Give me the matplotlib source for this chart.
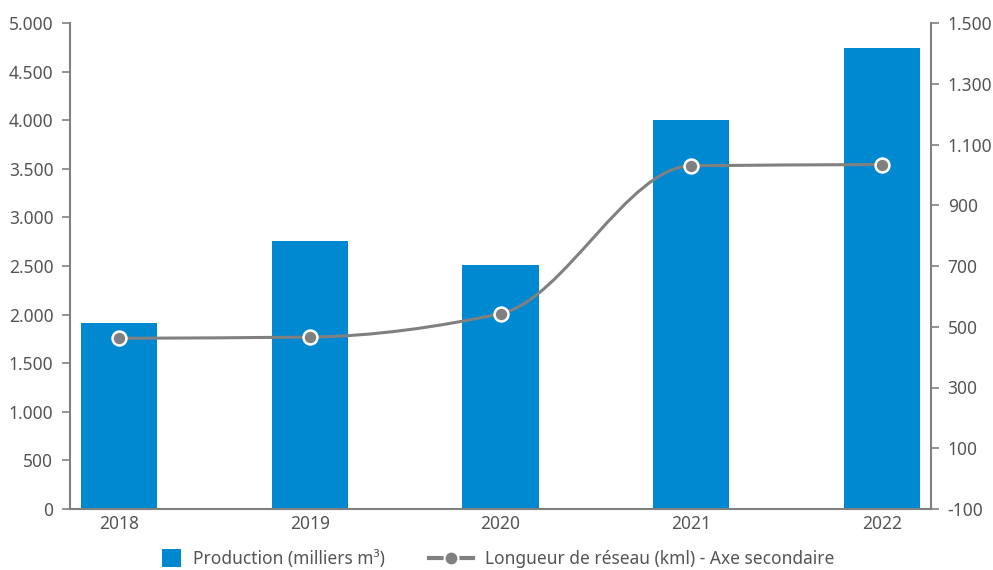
import numpy as np
import matplotlib.pyplot as plt
from matplotlib.path import Path
from matplotlib.patches import PathPatch, Patch, Rectangle
from matplotlib.lines import Line2D
from matplotlib.legend_handler import HandlerPatch

plt.rcParams['font.family'] = ['Noto Sans', 'DejaVu Sans']

years = ['2018', '2019', '2020', '2021', '2022']
production = [1910, 2760, 2510, 4005, 4740]
reseau = [462, 466, 543, 1030, 1034]

bar_color = '#0088d1'
gray = '#808080'
text_color = '#555555'


def monotone_path(x, y):
    # cubic bezier segments with Fritsch-Carlson tangents (smooth line like the source)
    x = np.asarray(x, float)
    y = np.asarray(y, float)
    h = np.diff(x)
    d = np.diff(y) / h
    m = np.zeros_like(y)
    m[0], m[-1] = d[0], d[-1]
    for i in range(1, len(y) - 1):
        if d[i - 1] * d[i] > 0:
            m[i] = 2 * d[i - 1] * d[i] / (d[i - 1] + d[i])
    verts = [(x[0], y[0])]
    codes = [Path.MOVETO]
    for i in range(len(x) - 1):
        verts += [(x[i] + h[i] / 3, y[i] + m[i] * h[i] / 3),
                  (x[i + 1] - h[i] / 3, y[i + 1] - m[i + 1] * h[i] / 3),
                  (x[i + 1], y[i + 1])]
        codes += [Path.CURVE4] * 3
    return Path(verts, codes)


def square_patch(legend, orig_handle, xdescent, ydescent, width, height, fontsize):
    # square handle pushed to the right edge of the (wide) handle box
    side = height * 1.55
    return Rectangle((width - side - xdescent, -ydescent + (height - side) / 2), side, side)


fig = plt.figure(figsize=(9.93, 5.70), dpi=100)
ax = fig.add_axes([70 / 993, 61 / 570, 861 / 993, 486 / 570])
ax2 = ax.twinx()

xpos = np.arange(len(years))
ax.bar(xpos, production, width=0.40, color=bar_color, zorder=2)
ax.set_xlim(-0.257, 4.257)
ax.set_ylim(0, 5000)
ax.set_yticks(range(0, 5001, 500))
ax.set_yticklabels([f"{v:,}".replace(',', '.') for v in range(0, 5001, 500)])
ax.set_xticks(xpos)
ax.set_xticklabels(years)

ax2.set_ylim(-100, 1500)
rticks = list(range(-100, 1501, 200))
ax2.set_yticks(rticks)
ax2.set_yticklabels([f"{v:,}".replace(',', '.') for v in rticks])

ax2.add_patch(PathPatch(monotone_path(xpos, reseau), facecolor='none',
                        edgecolor=gray, lw=2.2, zorder=3))
ax2.plot(xpos, reseau, linestyle='none', marker='o', markersize=10,
         markerfacecolor=gray, markeredgecolor='white', markeredgewidth=1.8, zorder=4)

for a in (ax, ax2):
    for s in a.spines.values():
        s.set_visible(False)
    a.tick_params(colors=gray, labelcolor=text_color, labelsize=12.5, width=1.2, length=6)
ax.spines['left'].set_visible(True)
ax.spines['bottom'].set_visible(True)
ax2.spines['right'].set_visible(True)
for s in (ax.spines['left'], ax.spines['bottom'], ax2.spines['right']):
    s.set_color(gray)
    s.set_linewidth(1.5)
ax.tick_params(axis='x', length=0, pad=4)
ax.tick_params(axis='y', pad=6)
ax2.tick_params(axis='y', pad=6)

bar_handle = Patch(facecolor=bar_color, edgecolor='none')
line_handle = Line2D([], [], color=gray, lw=3, marker='o', markersize=10,
                     markerfacecolor=gray, markeredgecolor='white', markeredgewidth=1.5)
labels = ['Production (milliers m³)', 'Longueur de réseau (kml) - Axe secondaire']
fig.legend([bar_handle, line_handle], labels, loc='center', bbox_to_anchor=(0.489, 11 / 570),
           ncol=2, frameon=False, fontsize=12.5, labelcolor=text_color, handlelength=2.55,
           columnspacing=2.5, handletextpad=0.7,
           handler_map={bar_handle: HandlerPatch(patch_func=square_patch)})

fig.savefig('out.png', dpi=100)
